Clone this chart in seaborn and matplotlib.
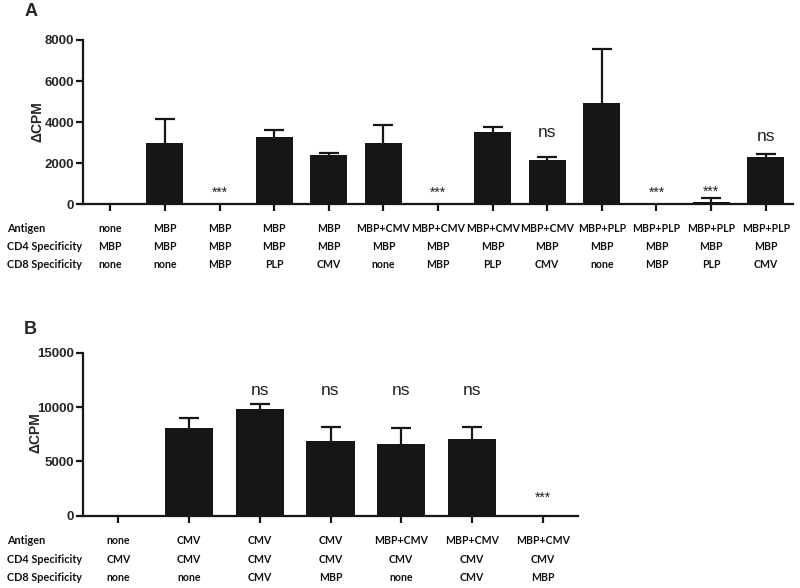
import numpy as np
import pandas as pd
import matplotlib
matplotlib.use("Agg")
import matplotlib.pyplot as plt
import matplotlib.transforms as mtransforms
from matplotlib import font_manager
import seaborn as sns

# ---------------- data ----------------
row_names = ["Antigen", "CD4 Specificity", "CD8 Specificity"]

antigen_a = ["none", "MBP", "MBP", "MBP", "MBP", "MBP+CMV", "MBP+CMV", "MBP+CMV",
             "MBP+CMV", "MBP+PLP", "MBP+PLP", "MBP+PLP", "MBP+PLP"]
cd4_a = ["MBP"] * 13
cd8_a = ["none", "none", "MBP", "PLP", "CMV", "none", "MBP", "PLP", "CMV",
         "none", "MBP", "PLP", "CMV"]
values_a = [0, 2970, 0, 3290, 2400, 2970, 0, 3500, 2140, 4950, 0, 110, 2300]
errors_a = [0, 1180, 0, 330, 110, 890, 0, 270, 175, 2600, 0, 190, 130]
annot_a = ["", "", "***", "", "", "", "***", "", "ns", "", "***", "***", "ns"]
annot_y_a = [0, 0, 555, 0, 0, 0, 555, 0, 3490, 0, 555, 630, 3290]
yticks_a = [0, 2000, 4000, 6000, 8000]

antigen_b = ["none", "CMV", "CMV", "CMV", "MBP+CMV", "MBP+CMV", "MBP+CMV"]
cd4_b = ["CMV"] * 7
cd8_b = ["none", "none", "CMV", "MBP", "none", "CMV", "MBP"]
values_b = [0, 8050, 9800, 6830, 6570, 7090, 0]
errors_b = [0, 970, 490, 1310, 1540, 1100, 0]
annot_b = ["", "", "ns", "ns", "ns", "ns", "***"]
annot_y_b = [0, 0, 11490, 11490, 11490, 11490, 1650]
yticks_b = [0, 5000, 10000, 15000]

# ---------------- style ----------------
sns.set_style("ticks")
installed = {f.name for f in font_manager.fontManager.ttflist}
narrow = "Liberation Sans Narrow" if "Liberation Sans Narrow" in installed else "Liberation Sans"
plt.rcParams["font.family"] = [narrow, "DejaVu Sans"]

BAR = "#161616"
LW = 1.6
label_font = ["Lato", "DejaVu Sans"]

fig = plt.figure(figsize=(8.0, 5.88), dpi=100)
W, H = 800.0, 588.0


def make_panel(rect, values, errors, annot, annot_y, yticks, ylim,
               rows, row_y_px, letter, letter_xy, ylab_xy, ns_size):
    ax = fig.add_axes(rect)
    n = len(values)
    df = pd.DataFrame({"pos": np.arange(n), "val": values})
    sns.barplot(data=df, x="pos", y="val", color=BAR, width=0.68,
                saturation=1, errorbar=None, ax=ax, linewidth=0)
    err = np.asarray(errors, dtype=float)
    idx = np.nonzero(err > 0)[0]
    _, caps, _ = ax.errorbar(idx, np.asarray(values, dtype=float)[idx],
                             yerr=[np.zeros(len(idx)), err[idx]],
                             fmt="none", ecolor=BAR, elinewidth=LW,
                             capsize=7.2, capthick=LW, zorder=1)
    if len(caps) == 2:
        caps[0].set_visible(False)
    ax.set_xlim(-0.5, n - 0.5)
    ax.set_ylim(*ylim)
    ax.set_yticks(yticks)
    ax.set_yticklabels([str(t) for t in yticks], fontweight="bold",
                       fontsize=9.5)
    ax.set_xticks(np.arange(n))
    ax.set_xticklabels([])
    ax.set_xlabel("")
    ax.set_ylabel("")
    for s in ("top", "right"):
        ax.spines[s].set_visible(False)
    for s in ("left", "bottom"):
        ax.spines[s].set_linewidth(LW)
        ax.spines[s].set_color(BAR)
    ax.tick_params(axis="both", direction="out", length=5, width=LW,
                   color=BAR, pad=1.5)
    # annotations
    for i, (a, yv) in enumerate(zip(annot, annot_y)):
        if a == "ns":
            ax.text(i, yv, a, ha="center", va="center", fontsize=ns_size,
                    color="#222222")
        elif a:
            ax.text(i, yv, a, ha="center", va="center", fontsize=10,
                    color="#222222", family=["Liberation Sans", "DejaVu Sans"])
    # row labels
    tr = mtransforms.blended_transform_factory(ax.transData, fig.transFigure)
    for r, (name, labels) in enumerate(zip(row_names, rows)):
        yf = 1 - row_y_px[r] / H
        fig.text(7 / W, yf, name, ha="left", va="center", fontsize=7.8,
                 fontweight="bold", family=label_font, color="#111111")
        for i, lab in enumerate(labels):
            ax.text(i, yf, lab, transform=tr, ha="center", va="center",
                    fontsize=7.6, fontweight="bold", family=label_font,
                    color="#111111")
    fig.text(letter_xy[0] / W, 1 - letter_xy[1] / H, letter, ha="center",
             va="center", fontsize=13, fontweight="bold",
             family=["Liberation Sans", "DejaVu Sans"])
    fig.text(ylab_xy[0] / W, 1 - ylab_xy[1] / H, "ΔCPM", rotation=90,
             ha="center", va="center", fontsize=10, fontweight="bold",
             family=["Liberation Sans", "DejaVu Sans"])
    return ax


# panel A
left_a, right_a = 83 / W, 793 / W
bot_a, top_a = 1 - 204.4 / H, 1 - 40 / H
make_panel([left_a, bot_a, right_a - left_a, top_a - bot_a],
           values_a, errors_a, annot_a, annot_y_a, yticks_a, (0, 8000),
           [antigen_a, cd4_a, cd8_a], [229, 246.7, 264.7],
           "A", (30.6, 11), (38, 122), 12.5)

# panel B
left_b, right_b = 83 / W, 578 / W
bot_b, top_b = 1 - 515.5 / H, 1 - 352.8 / H
make_panel([left_b, bot_b, right_b - left_b, top_b - bot_b],
           values_b, errors_b, annot_b, annot_y_b, yticks_b, (0, 15000),
           [antigen_b, cd4_b, cd8_b], [541, 559.4, 577.4],
           "B", (30.6, 329), (35, 433), 12.5)

fig.savefig("out.png", dpi=100, facecolor="white")
